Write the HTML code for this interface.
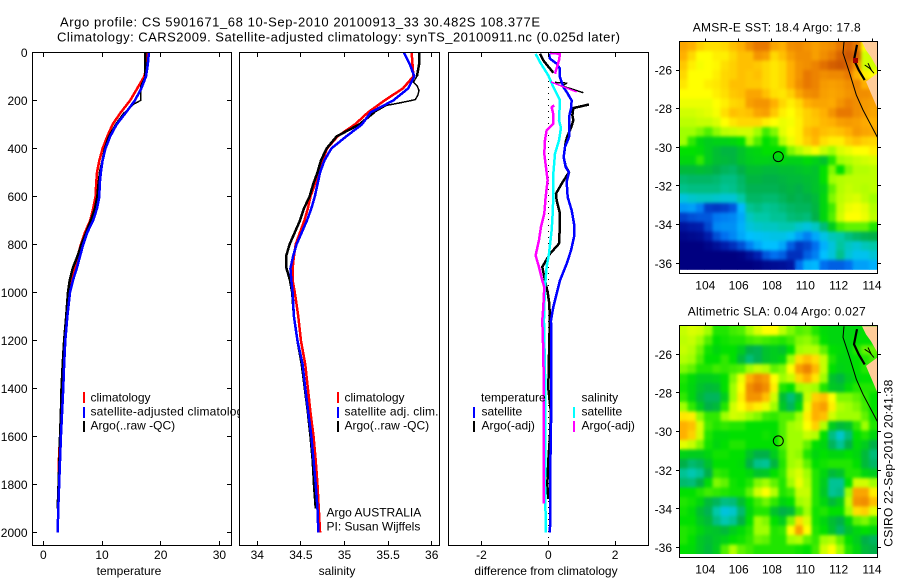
<!DOCTYPE html>
<html lang="en">
<head>
<meta charset="utf-8">
<title>Argo profile 5901671_68</title>
<style>
html,body{margin:0;padding:0;background:#fff;}
#figure{display:block;width:900px;height:580px;}
text{font-family:"Liberation Sans",sans-serif;font-size:12px;fill:#000;}
text.big{font-size:13px;}
</style>
</head>
<body>
<svg id="figure" xmlns="http://www.w3.org/2000/svg" width="900" height="580" viewBox="0 0 900 580">
  <defs>
    <filter id="heat-smooth" x="-5%" y="-5%" width="110%" height="110%" color-interpolation-filters="sRGB">
      <feGaussianBlur stdDeviation="1.5"/>
    </filter>
  </defs>
  <rect x="0" y="0" width="900" height="580" fill="#fff"/>
  <text class="big" x="60" y="26.7" textLength="480" lengthAdjust="spacing">Argo profile: CS 5901671_68 10-Sep-2010 20100913_33 30.482S 108.377E</text>
  <text class="big" x="57" y="41.7" textLength="563" lengthAdjust="spacing">Climatology: CARS2009. Satellite-adjusted climatology: synTS_20100911.nc (0.025d later)</text>

  <g id="panel-temp">
    <rect x="32.5" y="52.5" width="199" height="493" fill="#fff"/>
    <g id="temp-marks"></g>
    <g>
      <rect x="83" y="392" width="2" height="11" fill="#f00"/>
      <text x="90.5" y="401.5">climatology</text>
      <rect x="83" y="407" width="2" height="11" fill="#00f"/>
      <text x="90.5" y="415.5" textLength="159" lengthAdjust="spacing">satellite-adjusted climatology</text>
      <rect x="83" y="421" width="2" height="11" fill="#000"/>
      <text x="90.5" y="429.5">Argo(..raw -QC)</text>
    </g>
    <text x="129" y="575" text-anchor="middle">temperature</text>
  </g>

  <g id="panel-sal">
    <rect x="239" y="46" width="209" height="510" fill="#fff"/>
    <g id="sal-marks"></g>
    <g>
      <rect x="337" y="392" width="2" height="11" fill="#f00"/>
      <text x="344.5" y="401.5">climatology</text>
      <rect x="337" y="407" width="2" height="11" fill="#00f"/>
      <text x="344.5" y="415.5" textLength="94" lengthAdjust="spacing">satellite adj. clim.</text>
      <rect x="337" y="421" width="2" height="11" fill="#000"/>
      <text x="344.5" y="429.5">Argo(..raw -QC)</text>
    </g>
    <text x="326.5" y="516.5">Argo AUSTRALIA</text>
    <text x="326.5" y="530.5">PI: Susan Wijffels</text>
    <text x="337" y="575" text-anchor="middle">salinity</text>
  </g>

  <g id="panel-diff">
    <g id="diff-marks"></g>
    <g>
      <text x="481" y="401.5">temperature</text>
      <rect x="473" y="407" width="2" height="11" fill="#00f"/>
      <text x="481.5" y="415.5">satellite</text>
      <rect x="473" y="421" width="2" height="11" fill="#000"/>
      <text x="481.5" y="429.5">Argo(-adj)</text>
      <text x="581.5" y="401.5">salinity</text>
      <rect x="573" y="407" width="2" height="11" fill="#0ff"/>
      <text x="581.5" y="415.5">satellite</text>
      <rect x="573" y="421" width="2" height="11" fill="#f0f"/>
      <text x="581.5" y="429.5">Argo(-adj)</text>
    </g>
    <text x="546" y="575" text-anchor="middle">difference from climatology</text>
  </g>

  <g id="map-sst">
    <text x="776.7" y="31.5" text-anchor="middle" textLength="168" lengthAdjust="spacing">AMSR-E SST: 18.4 Argo: 17.8</text>
  </g>
  <g id="map-sla">
    <text x="776.7" y="315.5" text-anchor="middle" textLength="178" lengthAdjust="spacing">Altimetric SLA: 0.04 Argo: 0.027</text>
  </g>
  <text transform="translate(892.5,546.7) rotate(-90)" textLength="167" lengthAdjust="spacing">CSIRO 22-Sep-2010 20:41:38</text>
</svg>

<script>
// ---------- profile data ----------
const depthLevels = [0,50,100,150,200,250,300,350,400,450,500,550,600,650,700,750,800,850,900,950,1000,1100,1200,1300,1400,1500,1600,1700,1800,1900,2000];
const tempClim = [17.7,17.7,17.2,16.0,14.8,13.2,11.8,10.9,10.1,9.55,9.15,9.0,8.9,8.5,8.0,7.1,6.4,5.85,5.3,4.9,4.4,3.95,3.6,3.4,3.2,3.0,2.85,2.65,2.7,2.55,2.45];
const tempSat = [18.0,17.8,17.5,16.7,15.6,14.1,12.5,11.4,10.6,10.1,9.8,9.6,9.55,9.15,8.5,7.5,6.8,6.25,5.7,5.05,4.55,4.1,3.75,3.55,3.4,3.2,3.0,2.85,2.7,2.55,2.45];
const tempArgo = [17.4,17.4,17.4,null,null,13.9,12.4,11.2,10.5,10.1,9.65,9.4,9.2,8.8,8.1,7.3,6.5,5.8,5.0,4.5,4.2,3.9,3.55,3.3,3.1,3.0,2.85,2.75,2.6,2.45,null];
const tempRawDepth = [100,140,200,215,225,250];
const tempRaw = [17.4,16.6,16.6,15.4,15.0,13.9];

const salClim = [35.77,35.78,35.79,35.67,35.46,35.27,35.12,34.92,34.80,34.75,34.71,34.66,34.61,34.58,34.54,34.49,34.44,34.42,34.405,34.405,34.43,34.47,34.50,34.55,34.58,34.61,34.645,34.67,34.69,34.705,34.72];
const salSat = [35.68,35.75,35.80,35.73,35.56,35.30,35.20,35.02,34.85,34.77,34.72,34.69,34.66,34.62,34.57,34.51,34.45,34.41,34.38,34.39,34.405,34.42,34.46,34.52,34.55,34.585,34.62,34.645,34.67,34.69,34.70];
const salArgo = [35.86,35.855,35.83,null,null,35.34,35.17,34.91,34.795,34.73,34.69,34.64,34.60,34.535,34.49,34.43,34.37,34.33,34.335,34.375,34.40,34.42,34.46,34.51,34.545,34.58,34.61,34.635,34.65,34.67,null];
const salRawDepth = [100,124,138,158,180,197,210,221,250];
const salRaw = [35.83,35.79,35.83,35.855,35.84,35.81,35.64,35.48,35.34];

const diffTempSatDepth = [6,26,47,68,103,144,165,200,235,269,314,353,394,436,478,499,540,603,658,714,769,825,881,950,1006,1061,1117,1200,1400,1500,1600,1800,2000];
const diffTempSat = [.02,.05,.25,.35,.35,.45,.55,.70,.68,.62,.62,.62,.50,.46,.52,.62,.55,.58,.70,.77,.77,.68,.55,.35,.25,.15,.08,.09,.09,.09,.07,.06,.05];
const diffTempArgoDepth = [6,33,85,100,217,232,262,283,314,353,374,436,475,499,547,589,617,672,714,797,839,894,950,999,1047,1117,1200,1400,1500,1600,1700,1800,1860];
const diffTempArgo = [-.25,-.15,.15,null,1.22,.75,.72,.75,.68,.56,.52,.46,.52,.62,.40,.23,.25,.35,.35,.32,.05,-.18,-.10,-.02,.03,.05,.03,0,.08,.05,0,-.03,0];
const diffTempRawDepth = [125,128,140,168];
const diffTempRaw = [.2,.55,.42,1.05];
const diffSalSatDepth = [6,40,96,144,200,283,314,367,422,506,603,672,742,839,894,978,1061,1117,1400,1600,1800,2000];
const diffSalSat = [-.38,-.25,0,.15,.35,.32,.38,.32,.20,.15,.15,.13,.10,.02,-.05,-.10,-.12,-.13,-.09,-.09,-.10,-.07];
const diffSalArgoDepth = [2,6,33,89,100,221,228,258,297,325,367,422,478,533,603,672,728,783,846,894,950,978,1061,1117,1200,1400,1600,1800,1880];
const diffSalArgo = [.05,.35,.32,.20,null,.18,.10,.15,.15,-.05,-.10,-.12,-.07,-.02,-.08,-.12,-.22,-.28,-.38,-.28,-.18,-.12,-.15,-.18,-.16,-.13,-.14,-.13,-.13];
const diffSalRawDepth = [123,165];
const diffSalRaw = [.08,.85];

// ---------- tick labels ----------
const depthTicks = [0,200,400,600,800,1000,1200,1400,1600,1800,2000];
const tempTicks = [0,10,20,30];
const salTicks = [34,34.5,35,35.5,36];
const diffTicks = [-2,0,2];
const lonTicks = [104,106,108,110,112,114];
const latTicks = [-26,-28,-30,-32,-34,-36];

// ---------- map data (colour index: 0 navy ... 6 green ... 8 yellow ... 11 brown) ----------
const sstGrid = [
[9.2,9,8.6,8.4,8.4,8.5,8.8,9,9.6,10,10,9.2,9,9.6,9.7,9.5,9.3,9.5,9.6,10,10.5,10,8,8],
[9,8.5,8,8,8.2,8.2,8.5,8.8,8.8,9.5,9.3,8.5,8.8,9.3,9.6,9.6,9.3,9.6,9.9,10.5,10.8,10.5,7.5,7.5],
[8.7,8.2,7.9,8,8.1,8.4,8.6,8.8,8.8,8.7,8.5,8.3,8.5,9,9.5,9.6,9.8,10.2,10.6,10.8,10.5,9.5,7.5,7.5],
[8.5,8,8,8,8.2,8.5,8.6,8.8,8.7,8.8,8.5,8.3,8.5,9,9.5,10,9.8,9.6,9.7,9.7,10,9,8.2,8],
[8.3,8,8,8.2,8.3,8.5,8.8,8.8,8.7,8.7,8.5,8.3,8.5,9,9.6,10,9.8,9.4,9.3,9.4,9.6,9.7,9,9],
[8,8,8,8,8.2,8.4,8.7,8.8,9.2,9.2,8.8,8.4,8.3,8.6,9.2,9.6,9.7,9.3,9.2,9.3,9.5,9.6,9.6,9.5],
[7.8,7.8,7.8,7.8,8,8.2,8.5,8.6,9.3,9.5,9.5,9,8.5,8.2,8.5,9,9.2,9.2,9.1,9.5,9.8,9.6,9.4,9.3],
[7.5,7.5,7.6,7.7,7.9,8.4,8.8,8.7,8.8,9.2,9.3,8.7,8.2,8,8.3,8.6,8.8,9,9.5,10,10,9.6,9.4,9.2],
[7.3,7.3,7.4,7.4,7.6,8,8.3,8.5,8.5,8.5,8.2,8,7.8,7.9,8.2,8.6,8.7,8.9,9,9.3,9.4,9.3,9.1,9],
[7,7,6.8,6.5,6.9,7.3,7.4,7.5,7.5,7,6.4,6.8,7.7,8,8.2,8.8,9,8.8,8.7,8.8,9,9.4,9.2,9.1],
[7,6.3,5.8,5.6,5.7,5.7,5.8,6,7,6.5,6,6.2,7.2,7.8,8.2,8.6,8.9,8.4,8.2,8.2,8.6,8.8,8.6,8.5],
[6,6,5.9,5.6,5.3,5.1,5.1,5.4,5.7,5.8,6,6,6,6.8,7.2,7.6,7.9,7.4,7,7.6,7.8,8,8,8.2],
[5.8,5.8,6.3,5.6,5.3,5.2,5.1,5.4,5.6,5.7,5.7,5.6,5.8,5.7,5.7,5.9,5.7,5.4,6.2,7,7.2,7.4,7.5,7.6],
[5.2,5.2,5.3,5.2,5,4.8,4.7,5,5.3,5.3,5.2,5.2,5.3,5.3,5.4,5.5,5.4,6,6.8,6,6.8,7.2,7.2,7.3],
[4.6,4.7,4.7,4.7,4.6,4.4,4.4,4.7,5.1,5.1,5,5,5.1,5.2,5.2,5.3,5.4,6,7,7.2,7.3,7.3,7.3,7.3],
[4.3,4.4,4.4,4.4,4.4,4.2,4.3,4.6,4.9,4.9,4.9,4.9,5,5.1,5,5.2,5.4,5.7,6.6,7.2,7.4,7.3,7.2,7.3],
[3.4,3.6,3.7,3.7,3.6,3.5,3.5,4,4.7,4.7,4.6,4.6,4.8,5,4.9,5,5.2,5.8,6.8,7.3,7.5,7.6,7.3,7],
[2.5,2.6,2.2,1.4,1.3,1.4,1.7,2.9,4.2,4.4,4.2,4.3,4.5,4.7,4.8,4.8,5.1,5.8,6.4,7.4,7.8,7.9,7.7,7.2],
[1.4,1.6,1.7,1.7,2.1,2.2,2.3,2.7,3.7,4,4,4.2,4.2,4.5,4.6,4.5,5,5.8,6.5,7.5,8,8,7.8,7.3],
[.6,.8,.9,1.5,2.3,2.4,2.4,2.8,3.4,3.6,3.7,3.7,3.9,3.9,3.6,3.4,3.7,4.5,5.6,6.4,6.6,6.6,6.6,6.2],
[.2,.3,.4,.9,1.6,2,2.3,2.7,3,3.1,3.2,3.3,3.3,3.1,2.6,2.2,2.7,3.3,3.8,4,4.4,4.7,4.9,5],
[0,0,0,.2,.5,.9,1.2,1.6,2.2,2.7,3,3,2.7,1.8,1.3,1.5,2,2.8,3.4,4.1,3.7,3.5,3.8,4],
[0,0,0,0,0,0,0,.1,.5,1,1.7,2,1.8,1.2,1.2,1.8,2.2,3,3.4,4.3,3.5,3.2,3.2,3.5],
[0,0,0,0,0,0,0,0,0,.1,.3,.4,.5,.7,2,2.8,2.9,2,1.8,1.8,2,2.6,2.6,2.8]
];
const slaGrid = [
[7.4,7.6,7.5,7,6.2,6.2,6.4,6.5,7,7.6,8,8,7.3,6.8,6.5,6.6,6.2,5.9,5.8,5.8,5.8,5.8,6,6],
[7.3,7.4,7,6.5,6,6.1,6.2,6.2,6.4,6.5,6.4,6.3,6.2,6.4,6.8,6.9,6.6,6,5.8,5.8,5.8,6,6,6],
[7.4,7.2,6.7,6.1,5.8,6,6,5.6,5,4.9,5.4,5.6,5.4,6,7,7.2,7.2,6.6,6,5.9,5.8,6.2,6.6,6.6],
[7.2,7,6.5,6,6,6.3,6,5.2,4.5,4.9,5.4,5.6,5.8,7,8.4,8.8,8.4,7.4,6.2,5.8,5.8,6,6.2,6.4],
[6.8,6.6,6.2,6.2,6.4,6.3,6.4,6.5,7,7.4,7.2,6.6,6.8,8,9.3,9.8,8.9,7.4,6,5.7,5.8,6,6.2,6.3],
[6.2,5.9,5.6,5.6,5.7,6,6.8,7.8,9,9.6,9.3,8,7,7.4,8.5,9,8.3,7,5.4,5.1,5.6,5.9,6,6],
[6.1,5.8,5.4,5.2,5.3,6,7,8,9.6,10,9.6,8.2,6.2,6,7,7.2,7,6.2,5.5,5.4,5.9,6.2,6.2,6.2],
[6.3,5.8,5.2,4.8,4.8,5.6,7,8.2,9.5,9.5,8.8,7.5,5.3,4.5,5.4,7.4,8.6,8.8,8,6.8,6.8,6.6,6.3,6],
[7,6.3,5.6,5,5.2,6.2,7.5,8,8.5,8.2,7.8,7,5.5,4.8,5.8,7.8,9,9.3,8.2,7.2,7,6.8,6.4,6],
[8.3,8.2,6.9,6.3,6.3,7,7.5,7.4,7,6.8,6.4,6.3,6.5,6.5,7,8.2,9,8.8,7.5,7,7,7,6.6,6.1],
[9,8.8,7.6,6.4,6.2,6.3,6.2,6.2,6,6,6,6,6.5,7,7.2,8,8.6,7.2,5.6,5.2,5.4,6.3,7,6.2],
[9,8.6,7.5,6.2,5.9,5.9,6,6,6,6,6.1,6,6.5,7,7,7.4,7.2,6,4.4,3.6,4.5,6,6.2,5.8],
[7.7,7.4,6.8,6.1,5.8,6,6.2,6.2,6,6,6,6,6.5,7,7,6.6,6,5.8,4.8,4.2,5,5.9,5.6,5],
[5.7,5.6,5.6,5.8,6.1,6.1,6,6,5.4,5,5,5.6,6.3,7,6.9,6.2,5.8,6,5.8,5.8,6,5.8,5.2,4.5],
[5,4.6,4.8,5.4,6,6,6,5.9,5,4.3,4.2,5.1,6.2,7,7.2,6.6,6,6.1,6.2,6.2,6.2,6,5.2,4.7],
[4.2,3.9,4.2,5,6.3,6.2,6,6,5.8,5.4,5.5,6,6.3,7.3,7.6,7,6.2,5.8,5.2,5.4,6.2,6.2,5.8,5.6],
[4.6,4.5,5,5.9,6.8,6.6,6.1,6,6.2,6.8,7,6.6,6.2,7,7.8,7.2,6.2,5.6,4.2,4.2,6,7.5,7.5,7],
[6,6,6.2,6.4,6.3,6.2,6.1,6.1,6.6,7.5,8,7.2,6.2,6.4,7.4,7.4,6.2,5.5,4.2,4.4,7,9.2,9.2,8.2],
[6.2,6.1,5.8,5.2,4.8,4.4,4.5,5.3,6,6.4,6.7,6.3,5.8,6,7,7.2,6.2,5.8,5.2,5.6,7.4,9.5,9.6,8.8],
[6.1,5.9,5.3,4.9,4,3.4,3.6,4.6,5.8,6.2,6.2,5.4,5,5.2,6.4,7,6.1,6.2,6,6,7,8.4,8.6,7.7],
[6,6,5.5,5.2,4.4,3.9,4.2,5,6,7,6.8,6,5.6,6.8,8.4,7.6,6.1,5.8,5.3,5,5.8,6.6,6.8,6.4],
[6.2,6.1,5.8,5.5,5.4,5.2,5.6,5.9,6.2,7,7,6.2,6.3,8,9.3,8,6.2,6,5.4,4.7,5.4,5.8,6,5.8],
[6.2,6,5.5,5.3,5.5,5.7,6,6.1,6.3,6.7,6.6,6.2,6.2,7,7.2,6.6,6.3,7,7.2,6.6,6,5.6,5,4.8],
[6,5.9,5.5,5.2,5.6,6.5,7.2,6.6,6.4,6.2,6.2,6.2,6.2,6.2,6.1,6,6.4,7.5,8,7,6.2,5.8,5.2,5]
];
const argoLon = 108.377;
const argoLat = -30.482;
const hotspotLon = 113.01;
const hotspotLat = -25.51;
const isobathLon = [112.32,112.26,112.66,113.06,113.46,114.32];
const isobathLat = [-24.55,-25.12,-26.17,-27.29,-28.07,-29.47];
const landNorthLon = [113.4,114.32,114.32,113.94,113.64];
const landNorthLat = [-24.55,-24.55,-25.9,-25.33,-24.97];
const landSouthLon = [114.32,113.64,114.06,114.32];
const landSouthLat = [-26.17,-26.6,-27.45,-27.97];
const coastLon = [113.1,112.92,113.2,113.56];
const coastLat = [-24.7,-25.48,-26,-26.52];
const bayALon = [113.56,113.86,114.12];
const bayALat = [-25.74,-25.91,-26.17];
const bayBLon = [113.76,113.96];
const bayBLat = [-25.65,-26];

// ---------- helpers ----------
const NS = 'http://www.w3.org/2000/svg';
function make(parent, tag, attrs, name) {
  const el = document.createElementNS(NS, tag);
  for (const k in attrs) el.setAttribute(k, attrs[k]);
  
  
  parent.appendChild(el);
  return el;
}
function label(parent, x, y, str, anchor, name) {
  const t = make(parent, 'text', {x: x, y: y, 'text-anchor': anchor}, name);
  t.textContent = str;
  return t;
}
const depthY = d => 52.4 + 0.24 * d;
const tempX = v => 43.3 + 5.87 * v;
const salX = v => 257.3 + 87.2 * (v - 34);
const diffX = v => 548.3 + 33.4 * v;
const snap = v => Math.round(v - 0.5) + 0.5;

function series(parent, xs, depths, xScale, color, width, name) {
  let pts = [];
  const flush = () => {
    if (pts.length > 1) {
      make(parent, 'polyline', {points: pts.join(' '), fill: 'none', stroke: color, 'stroke-width': width, 'stroke-linejoin': 'round', 'shape-rendering': 'crispEdges'}, name);
    }
    pts = [];
  };
  xs.forEach((v, i) => {
    if (v === null) { flush(); return; }
    pts.push(xScale(v).toFixed(2) + ',' + depthY(depths[i]).toFixed(2));
  });
  flush();
}

function frame(parent, left, right, top, bottom, name) {
  make(parent, 'rect', {x: left, y: top, width: right - left, height: bottom - top, fill: 'none', stroke: '#000', 'stroke-width': 1, 'shape-rendering': 'crispEdges'}, name);
}
function tick(parent, x1, y1, x2, y2, name) {
  make(parent, 'line', {x1: x1, y1: y1, x2: x2, y2: y2, stroke: '#000', 'stroke-width': 1, 'shape-rendering': 'crispEdges'}, name);
}

function profileAxes(parent, left, right, ticks, xScale, prefix) {
  ticks.forEach(t => {
    const x = snap(xScale(t));
    tick(parent, x, 52.5, x, 57, prefix + '-top-tick');
    tick(parent, x, 545.5, x, 541, prefix + '-bottom-tick');
    label(parent, xScale(t), 559, String(t), 'middle', prefix + '-tick-label');
  });
  frame(parent, left, right, 52.5, 545.5, prefix + '-frame');
}

// ---------- temperature panel ----------
const gTemp = document.getElementById('temp-marks');
series(gTemp, tempClim, depthLevels, tempX, '#f00', 2.5, 'temperature-climatology-line');
series(gTemp, tempRaw, tempRawDepth, tempX, '#000', 1.5, 'temperature-argo-raw-line');
series(gTemp, tempArgo, depthLevels, tempX, '#000', 2.5, 'temperature-argo-line');
series(gTemp, tempSat, depthLevels, tempX, '#00f', 2.5, 'temperature-satellite-line');
profileAxes(gTemp, 32.5, 231.5, tempTicks, tempX, 'temperature-axis');
depthTicks.forEach(d => {
  const y = snap(depthY(d));
  tick(gTemp, 32.5, y, 37, y, 'depth-left-tick');
  tick(gTemp, 231.5, y, 227, y, 'depth-right-tick');
  label(gTemp, 27.5, depthY(d) + 4.5, String(d), 'end', 'depth-tick-label');
});

// ---------- salinity panel ----------
const gSal = document.getElementById('sal-marks');
series(gSal, salClim, depthLevels, salX, '#f00', 2.5, 'salinity-climatology-line');
series(gSal, salRaw, salRawDepth, salX, '#000', 1.5, 'salinity-argo-raw-line');
series(gSal, salArgo, depthLevels, salX, '#000', 2.5, 'salinity-argo-line');
series(gSal, salSat, depthLevels, salX, '#00f', 2.5, 'salinity-satellite-line');
profileAxes(gSal, 239.5, 439.5, salTicks, salX, 'salinity-axis');

// ---------- difference panel ----------
const gDiff = document.getElementById('diff-marks');
make(gDiff, 'line', {x1: 548.5, y1: depthY(120), x2: 548.5, y2: depthY(2060), stroke: '#000', 'stroke-width': 1, 'stroke-dasharray': '1 5', 'shape-rendering': 'crispEdges'}, 'zero-reference-line');
series(gDiff, diffTempRaw, diffTempRawDepth, diffX, '#000', 1.5, 'diff-temp-argo-raw-line');
series(gDiff, diffTempArgo, diffTempArgoDepth, diffX, '#000', 2.5, 'diff-temp-argo-line');
series(gDiff, diffTempSat, diffTempSatDepth, diffX, '#00f', 2.5, 'diff-temp-satellite-line');
series(gDiff, diffSalSat, diffSalSatDepth, diffX, '#0ff', 2.5, 'diff-sal-satellite-line');
series(gDiff, diffSalRaw, diffSalRawDepth, diffX, '#f0f', 1.5, 'diff-sal-argo-raw-line');
series(gDiff, diffSalArgo, diffSalArgoDepth, diffX, '#f0f', 2.5, 'diff-sal-argo-line');
profileAxes(gDiff, 448.5, 648.5, diffTicks, diffX, 'difference-axis');

// ---------- maps ----------
const rampColors = ['#000080','#0020b0','#0070f0','#00c0ff','#00c8a8','#00b048','#00e000','#a0ff00','#ffff00','#ffb000','#e87800','#c85000'];
function ramp(v) {
  const c = Math.max(0, Math.min(rampColors.length - 1.001, v));
  const i = Math.floor(c), f = c - i;
  const a = rampColors[i], b = rampColors[i + 1];
  const ch = s => [1, 3, 5].map(p => parseInt(s.substr(p, 2), 16));
  const A = ch(a), B = ch(b);
  return 'rgb(' + A.map((q, k) => Math.round(q + (B[k] - q) * f)).join(',') + ')';
}
const lonX = lon => 705.3 + 16.67 * (lon - 104);
const LON_LEFT = 102.44, LON_STEP = 0.495, LAT_TOP = -24.536, LAT_STEP = 0.4914;

function drawMap(group, grid, yOff, prefix) {
  const latY = lat => 70 + yOff + 19.33 * (-26 - lat);
  const pts = (lons, lats) => lons.map((l, i) => lonX(l).toFixed(1) + ',' + latY(lats[i]).toFixed(1)).join(' ');
  const clip = make(group, 'clipPath', {id: prefix + '-clip'}, prefix + '-clip');
  const imgTop = latY(LAT_TOP);
  make(clip, 'rect', {x: 679.5, y: imgTop.toFixed(1), width: 198, height: (LAT_STEP * 19.33 * 24).toFixed(1)}, prefix + '-clip-rect');
  const clipped = make(group, 'g', {'clip-path': 'url(#' + prefix + '-clip)'}, prefix + '-image');
  const base = make(clipped, 'g', {}, prefix + '-heatmap-base');
  const heat = make(clipped, 'g', {filter: 'url(#heat-smooth)'}, prefix + '-heatmap');
  grid.forEach((row, r) => {
    row.forEach((v, c) => {
      const attrs = {x: lonX(LON_LEFT + c * LON_STEP).toFixed(2), y: latY(LAT_TOP - r * LAT_STEP).toFixed(2), width: (LON_STEP * 16.67 + 0.4).toFixed(2), height: (LAT_STEP * 19.33 + 0.4).toFixed(2), fill: ramp(v), 'shape-rendering': 'crispEdges'};
      make(base, 'rect', attrs, prefix + '-cell-base');
      make(heat, 'rect', attrs, prefix + '-cell');
    });
  });
  make(group, 'polygon', {points: pts(landNorthLon, landNorthLat), fill: '#ffcc99'}, prefix + '-land-north');
  make(group, 'polygon', {points: pts(landSouthLon, landSouthLat), fill: '#ffcc99'}, prefix + '-land-south');
  make(group, 'polyline', {points: pts(isobathLon, isobathLat), fill: 'none', stroke: '#000', 'stroke-width': 1}, prefix + '-isobath');
  make(group, 'polyline', {points: pts(coastLon, coastLat), fill: 'none', stroke: '#000', 'stroke-width': 2.2}, prefix + '-coastline');
  make(group, 'polyline', {points: pts(bayALon, bayALat), fill: 'none', stroke: '#000', 'stroke-width': 1}, prefix + '-bay-line-a');
  make(group, 'polyline', {points: pts(bayBLon, bayBLat), fill: 'none', stroke: '#000', 'stroke-width': 1}, prefix + '-bay-line-b');
  make(group, 'circle', {cx: lonX(argoLon).toFixed(1), cy: latY(argoLat).toFixed(1), r: 5, fill: 'none', stroke: '#000', 'stroke-width': 1}, prefix + '-argo-position-marker');
  const top = 41.5 + yOff, bottom = 273.5 + yOff;
  const topR = Math.round(top - 0.5) + 0.5, botR = Math.round(bottom - 0.5) + 0.5;
  lonTicks.forEach(l => {
    const x = snap(lonX(l));
    tick(group, x, topR, x, topR - 3, prefix + '-lon-tick');
    label(group, lonX(l), 289.3 + yOff, String(l), 'middle', prefix + '-lon-label');
  });
  latTicks.forEach(l => {
    const y = snap(latY(l));
    tick(group, 679.5, y, 676, y, prefix + '-lat-left-tick');
    tick(group, 877.5, y, 881, y, prefix + '-lat-right-tick');
    label(group, 672, latY(l) + 4.5, String(l), 'end', prefix + '-lat-label');
  });
  frame(group, 679.5, 877.5, topR, botR, prefix + '-frame');
  return latY;
}
const sstLatY = drawMap(document.getElementById('map-sst'), sstGrid, 0, 'sst-map');
drawMap(document.getElementById('map-sla'), slaGrid, 284.3, 'sla-map');
make(document.getElementById('map-sst'), 'rect', {x: lonX(hotspotLon) - 2.5, y: sstLatY(hotspotLat) - 2.5, width: 5, height: 5, fill: '#a00000', 'shape-rendering': 'crispEdges'}, 'sst-hotspot-cell');
</script>
</body>
</html>
